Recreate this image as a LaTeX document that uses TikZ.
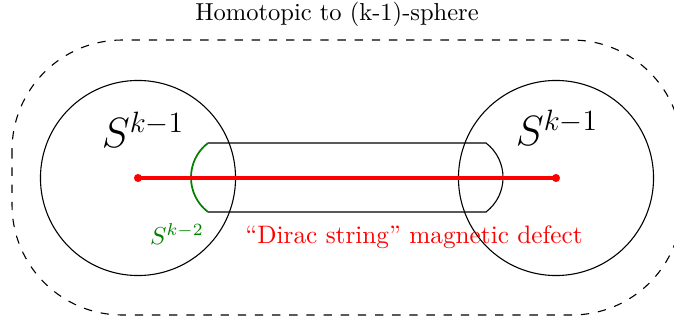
\documentclass[tikz,border=0pt]{standalone}
\usetikzlibrary{calc}
\definecolor{dkgreen}{rgb}{0,0.5,0}
\begin{document}
\begin{tikzpicture}[x=0.408pt,y=-0.408pt,
  sphere/.style={draw,line width=0.45pt},
  envelope/.style={draw,line width=0.45pt,dash pattern=on 3.4pt off 3.6pt,rounded corners=45pt},
  defect/.style={draw=red,line width=1.3pt},
  enddot/.style={circle,fill=red,inner sep=0pt,minimum size=3.3pt},
  lbl/.style={inner sep=0pt}]
\useasboundingbox (0,0) rectangle (674,324);
% dashed envelope
\draw[envelope] (12,40) rectangle (682,315);
% spheres
\node[sphere,circle,minimum size=79.6pt,inner sep=0pt] (L) at (138,178) {};
\node[sphere,circle,minimum size=79.6pt,inner sep=0pt] (R) at (556,178) {};
% tube
\coordinate (tl) at (208,143);
\coordinate (bl) at (208,212);
\coordinate (tr) at (486,143);
\coordinate (br) at (486,212);
\draw[line width=0.45pt] (tl) -- (tr) .. controls (508.7,160.4) and (508.7,194.6) .. (br) -- (bl);
\draw[dkgreen,line width=0.7pt] (tl) .. controls (185.3,160.4) and (185.3,194.6) .. (bl);
% defect
\node[enddot] (a) at (138,178) {};
\node[enddot] (b) at (556,178) {};
\draw[defect] (a.center) -- (b.center);
% labels
\node[lbl] (title) at (337,14) {Homotopic to (k-1)-sphere};
\node[lbl] (s1) at (143,130) {\LARGE $S^{k-1}$};
\node[lbl] (s2) at (557,128) {\LARGE $S^{k-1}$};
\node[lbl,text=dkgreen] (s3) at (177,234) {$S^{k-2}$};
\node[lbl,text=red] (dirac) at (414,237) {\fontsize{10.3}{12}\selectfont ``Dirac string'' magnetic defect};
\end{tikzpicture}
\end{document}
